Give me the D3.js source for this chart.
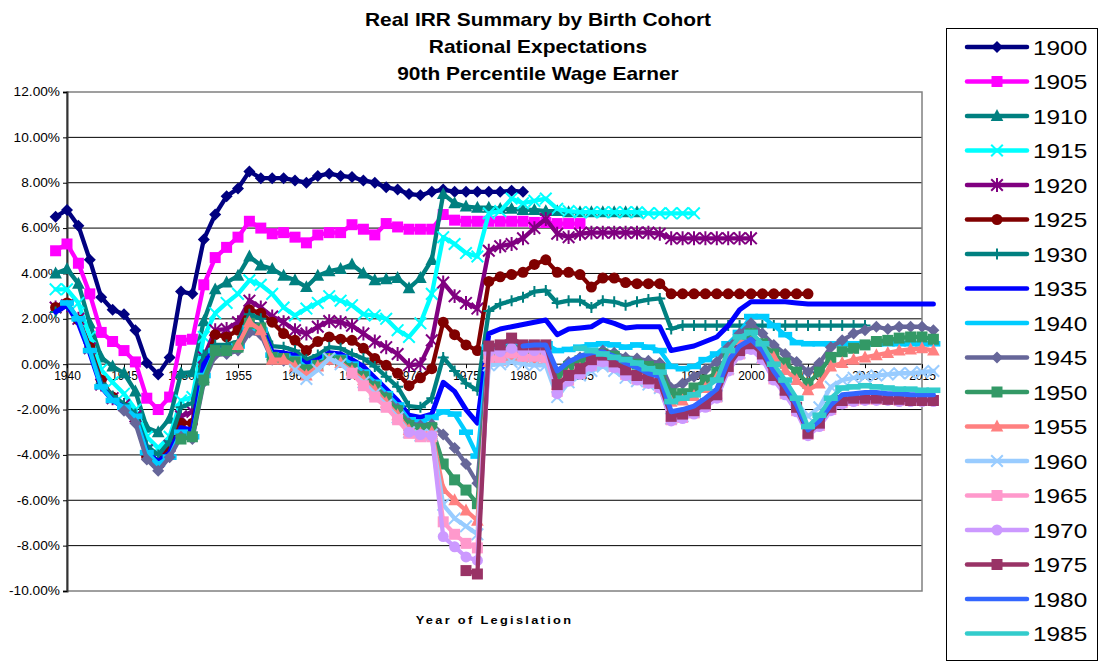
<!DOCTYPE html>
<html>
<head>
<meta charset="utf-8">
<script src="https://cdn.jsdelivr.net/npm/d3@7"></script>
<style>
  body { margin: 0; background: #fff; }
  text { font-family: Arial, "Liberation Sans", sans-serif; }
</style>
</head>
<body>
<svg id="chart" width="1102" height="663"></svg>
<script>
// cohorts, styles and values (real IRR in %, by year of legislation)
const cohorts = ["1900","1905","1910","1915","1920","1925","1930","1935","1940","1945","1950","1955","1960","1965","1970","1975","1980","1985"];
const colors = ["#000080","#FF00FF","#008080","#00FFFF","#800080","#800000","#008080","#0000FF","#00CCFF","#666699","#339966","#FF8080","#99CCFF","#FF99CC","#CC99FF","#993366","#3366FF","#33CCCC"];
const markers = ["diamond","square","triangle","x","star","circle","plus","none","dash","diamond","square","triangle","x","square","circle","square","none","dash"];
const startYears = [1939,1939,1939,1939,1939,1939,1939,1939,1940,1945,1950,1955,1960,1965,1970,1975,1980,1985];

const irr1900 = [6.5,6.8,6.1,4.6,2.95,2.4,2.2,1.5,0.05,-0.45,0.3,3.2,3.1,5.5,6.6,7.4,7.75,8.5,8.2,8.2,8.2,8.1,8.0,8.3,8.4,8.3,8.25,8.1,8.0,7.8,7.7,7.5,7.45,7.6,7.7,7.6,7.6,7.6,7.6,7.6,7.65,7.6];
const irr1905 = [5.0,5.3,4.45,3.1,1.4,1.0,0.6,0.1,-1.5,-2.0,-1.45,1.05,1.1,3.5,4.7,5.15,5.6,6.3,6.0,5.75,5.8,5.6,5.35,5.7,5.8,5.8,6.15,5.95,5.7,6.2,6.05,5.95,5.95,5.95,6.6,6.35,6.3,6.3,6.3,6.3,6.3,6.3,6.25,6.25,6.2,6.2,6.2];
const irr1910 = [4.0,4.2,3.55,1.8,0.3,-0.1,-0.4,-1.2,-2.8,-3.0,-2.4,-0.4,-0.35,1.9,3.3,3.6,3.9,4.75,4.35,4.2,3.9,3.7,3.4,3.9,4.1,4.2,4.4,4.0,3.7,3.75,3.8,3.35,3.8,4.6,7.5,7.1,6.95,6.9,6.9,6.85,6.85,6.8,6.8,6.75,6.75,6.7,6.7,6.7,6.7,6.7,6.7,6.7];
const irr1915 = [3.3,3.3,2.7,1.2,-0.25,-0.8,-1.3,-2.0,-3.2,-3.7,-3.2,-1.6,-1.45,1.2,2.25,2.7,3.1,3.7,3.5,3.1,2.5,2.15,2.45,2.7,3.0,2.8,2.6,2.2,2.15,2.0,1.5,1.2,1.8,3.1,5.6,5.3,4.9,4.75,6.65,6.75,7.3,7.1,7.2,7.3,6.85,6.75,6.7,6.7,6.7,6.7,6.7,6.7,6.65,6.65,6.65,6.65,6.65];
const irr1920 = [2.5,2.6,2.0,0.7,-0.9,-1.5,-1.8,-2.3,-3.8,-4.3,-3.6,-2.3,-2.1,0.3,1.5,1.55,1.85,2.8,2.5,2.1,1.85,1.5,1.35,1.65,1.9,1.85,1.7,1.35,1.0,0.75,0.45,-0.05,0.0,1.05,3.6,3.0,2.7,2.45,5.0,5.2,5.3,5.55,6.0,6.4,5.75,5.6,5.75,5.8,5.8,5.8,5.8,5.8,5.8,5.75,5.55,5.55,5.55,5.55,5.55,5.55,5.55,5.55];
const irr1925 = [2.5,2.7,1.95,0.75,-0.7,-1.45,-1.9,-2.4,-4.1,-4.35,-3.7,-2.6,-2.6,-0.1,1.3,1.2,1.5,2.4,2.25,1.85,1.35,1.05,0.6,1.0,1.2,1.1,1.05,0.7,0.25,-0.05,-0.4,-0.95,-0.6,-0.2,1.85,1.3,0.85,0.6,3.65,3.85,3.95,4.05,4.4,4.6,4.05,4.05,3.95,3.4,3.8,3.8,3.6,3.55,3.55,3.55,3.1,3.1,3.1,3.1,3.1,3.1,3.1,3.1,3.1,3.1,3.1,3.1,3.1];
const irr1930 = [2.3,2.6,1.9,0.65,-0.85,-1.4,-1.75,-2.2,-3.6,-4.0,-3.4,-1.9,-1.7,0.4,0.85,0.85,1.0,2.2,2.0,0.8,0.75,0.6,0.2,0.4,0.75,0.7,0.45,0.25,-0.1,-0.55,-1.0,-1.85,-1.9,-1.5,0.3,-0.3,-0.85,-1.15,2.35,2.65,2.8,2.95,3.2,3.25,2.7,2.8,2.8,2.5,2.8,2.75,2.6,2.75,2.85,2.9,1.55,1.7,1.7,1.7,1.7,1.7,1.7,1.7,1.7,1.7,1.7,1.7,1.7,1.7,1.7,1.7,1.7,1.7];
const irr1935 = [2.3,2.6,1.8,0.5,-1.0,-1.6,-1.9,-2.4,-3.9,-4.3,-3.9,-2.8,-2.9,0.0,0.7,0.7,0.85,1.8,1.7,0.55,0.5,0.4,0.0,0.2,0.5,0.45,0.2,-0.1,-0.6,-1.1,-1.6,-2.25,-2.35,-2.2,-0.8,-1.2,-2.0,-2.6,1.35,1.55,1.65,1.75,1.85,1.95,1.3,1.55,1.6,1.65,1.95,1.8,1.6,1.65,1.65,1.65,0.6,0.7,0.8,1.0,1.2,1.7,2.4,2.75,2.75,2.75,2.75,2.7,2.65,2.65,2.65,2.65,2.65,2.65,2.65,2.65,2.65,2.65,2.65,2.65];
const irr1940 = [2.7,2.0,0.6,-1.0,-1.6,-1.9,-2.3,-3.9,-4.4,-4.1,-3.0,-3.2,-0.5,0.6,0.6,0.8,1.6,1.5,0.4,0.35,0.25,-0.15,0.05,0.35,0.3,0.0,-0.35,-0.8,-1.3,-1.8,-2.45,-2.55,-2.35,-2.1,-2.2,-3.0,-4.05,0.75,0.8,0.85,0.85,0.9,0.9,0.6,0.65,0.75,0.85,0.9,0.85,0.75,0.85,0.75,0.6,-0.1,-0.2,-0.1,0.2,0.45,0.9,1.4,2.1,2.1,1.7,1.3,0.95,0.9,0.9,0.9,0.9,0.9,0.9,0.9,0.9,0.9,0.9,0.9,0.9];
const irr1945 = [-2.05,-2.6,-4.2,-4.7,-4.1,-3.2,-3.3,-0.8,0.4,0.45,0.6,1.4,1.3,0.2,0.15,0.05,-0.3,-0.1,0.2,0.1,-0.15,-0.5,-0.95,-1.45,-1.95,-2.6,-2.7,-2.65,-3.1,-3.7,-4.4,-5.25,0.6,0.65,0.8,0.7,0.7,0.7,-0.4,0.1,0.3,0.45,0.6,0.5,0.3,0.25,0.15,0.05,-1.05,-0.85,-0.55,-0.25,0.1,0.75,1.35,1.8,1.35,0.85,0.45,0.1,-0.35,0.05,0.75,1.05,1.35,1.5,1.65,1.55,1.65,1.65,1.65,1.5];
const irr1950 = [-3.3,-3.2,-0.7,0.6,0.6,0.75,1.8,1.6,0.3,0.25,0.1,-0.25,-0.05,0.25,0.15,-0.2,-0.55,-1.0,-1.5,-2.05,-2.7,-2.85,-2.8,-4.4,-5.1,-5.55,-6.15,0.3,0.35,0.6,0.5,0.5,0.5,-0.6,-0.1,0.15,0.3,0.45,0.35,0.1,0.0,-0.1,-0.2,-1.3,-1.3,-1.05,-0.7,-0.35,0.3,0.9,1.35,0.9,0.45,0.05,-0.35,-0.85,-0.35,0.3,0.55,0.7,0.85,1.0,1.05,1.15,1.2,1.2,1.1];
const irr1955 = [0.85,1.85,1.5,0.2,0.2,-0.1,-0.5,-0.1,0.2,0.05,-0.3,-0.7,-1.15,-1.7,-2.25,-2.9,-3.05,-3.0,-5.5,-6.0,-6.45,-6.9,0.1,0.15,0.3,0.2,0.2,0.2,-0.9,-0.45,-0.2,0.0,0.2,0.0,-0.3,-0.45,-0.6,-0.75,-1.65,-1.6,-1.4,-1.05,-0.6,0.35,1.0,0.95,0.6,0.3,-0.25,-0.7,-1.15,-0.85,-0.1,0.05,0.2,0.3,0.4,0.5,0.6,0.65,0.7,0.6];
const irr1960 = [-0.25,-0.65,-0.25,0.25,0.0,-0.4,-0.8,-1.3,-1.8,-2.35,-3.0,-3.15,-3.1,-6.2,-6.8,-7.15,-7.5,-0.05,0.0,0.1,0.0,-0.05,-0.05,-1.45,-0.8,-0.5,-0.3,-0.1,-0.3,-0.6,-0.75,-0.9,-1.05,-2.4,-2.3,-2.1,-1.8,-1.4,-0.2,0.5,0.75,0.3,-0.5,-1.1,-1.7,-2.3,-1.9,-1.0,-0.7,-0.6,-0.55,-0.5,-0.45,-0.4,-0.4,-0.35,-0.3];
const irr1965 = [-0.4,-0.95,-1.45,-1.9,-2.45,-3.05,-3.2,-3.2,-6.95,-7.5,-7.9,-8.1,0.3,0.3,0.5,0.35,0.35,0.3,-1.2,-0.7,-0.4,-0.05,0.15,-0.1,-0.45,-0.65,-0.8,-1.0,-2.45,-2.35,-2.15,-1.85,-1.45,-0.25,0.45,0.7,0.25,-0.65,-1.3,-2.05,-3.1,-2.7,-2.0,-1.7,-1.6,-1.55,-1.55,-1.55,-1.6,-1.6,-1.6,-1.6];
const irr1970 = [-3.0,-3.1,-3.15,-7.6,-8.05,-8.5,-8.65,0.55,0.55,0.7,0.6,0.6,0.6,-1.3,-0.75,-0.45,-0.1,0.1,-0.15,-0.5,-0.7,-0.85,-1.05,-2.5,-2.4,-2.2,-1.9,-1.5,-0.3,0.4,0.65,0.2,-0.7,-1.35,-2.1,-3.15,-2.75,-2.05,-1.75,-1.65,-1.6,-1.6,-1.6,-1.65,-1.65,-1.65,-1.65];
const irr1975 = [-9.1,-9.25,0.8,0.85,1.15,0.85,0.85,0.85,-0.9,-0.5,-0.2,0.2,0.4,0.1,-0.25,-0.5,-0.65,-0.85,-2.3,-2.2,-2.05,-1.75,-1.35,-0.1,0.6,0.9,0.45,-0.5,-1.15,-1.9,-3.05,-2.6,-1.9,-1.6,-1.5,-1.5,-1.5,-1.55,-1.55,-1.6,-1.6,-1.6];
const irr1980 = [0.8,0.85,0.85,-0.3,0.1,0.35,0.5,0.55,0.35,0.05,-0.15,-0.4,-0.55,-2.1,-2.0,-1.85,-1.5,-1.1,0.15,0.8,1.1,0.6,-0.3,-1.0,-1.8,-2.9,-2.5,-1.8,-1.35,-1.3,-1.25,-1.25,-1.3,-1.3,-1.35,-1.35,-1.35];
const irr1985 = [0.7,0.6,0.45,0.3,0.2,0.05,-0.2,-0.35,-1.65,-1.5,-1.35,-1.05,-0.7,0.6,1.2,1.4,0.9,0.0,-0.7,-1.5,-2.75,-2.25,-1.5,-1.05,-1.0,-0.95,-1.0,-1.05,-1.1,-1.1,-1.15,-1.15];

const seriesValues = [irr1900,irr1905,irr1910,irr1915,irr1920,irr1925,irr1930,irr1935,irr1940,irr1945,irr1950,irr1955,irr1960,irr1965,irr1970,irr1975,irr1980,irr1985];
const yTicks = [-10,-8,-6,-4,-2,0,2,4,6,8,10,12];
const xTicks = [1940,1945,1950,1955,1960,1965,1970,1975,1980,1985,1990,1995,2000,2005,2010,2015];
const titleLines = ["Real IRR Summary by Birth Cohort","Rational Expectations","90th Percentile Wage Earner"];

const plot = {left: 67, right: 922, top: 92, bottom: 591};
const svg = d3.select("#chart");

const x = d3.scaleLinear().domain([1940, 2015]).range([plot.left, plot.right]);
const y = d3.scaleLinear().domain([-10, 12]).range([plot.bottom, plot.top]);

// widen text a little, the way the original export looks
function stretch(sel, factor) {
    sel.each(function () {
        const w = this.getComputedTextLength();
        d3.select(this).attr("textLength", w * factor).attr("lengthAdjust", "spacingAndGlyphs");
    });
}

// gridlines
svg.append("g")
    .selectAll("line")
    .data(yTicks.filter(t => t > -10 && t < 12))
    .enter().append("line")
    .attr("x1", plot.left).attr("x2", plot.right)
    .attr("y1", d => y(d)).attr("y2", d => y(d))
    .attr("stroke", "#000").attr("stroke-width", 1);

// plot border
svg.append("rect")
    .attr("x", plot.left).attr("y", plot.top)
    .attr("width", plot.right - plot.left).attr("height", plot.bottom - plot.top)
    .attr("fill", "none").attr("stroke", "#808080").attr("stroke-width", 1.5);

// y axis
const yAxis = d3.axisLeft(y).tickValues(yTicks).tickSize(4).tickPadding(3)
    .tickFormat(d => d.toFixed(2) + "%");
const yg = svg.append("g").attr("transform", `translate(${plot.left},0)`).call(yAxis);
yg.select(".domain").attr("stroke", "#333").attr("stroke-width", 2);
yg.selectAll("line").attr("stroke", "#000");
yg.selectAll("text").style("font-size", "12px").attr("fill", "#000")
    .style("font-family", "Arial, 'Liberation Sans', sans-serif")
    .call(stretch, 1.14);

// x axis on the zero line
const xAxis = d3.axisBottom(x).tickValues(xTicks).tickSize(4).tickPadding(3).tickFormat(d3.format("d"));
const xg = svg.append("g").attr("transform", `translate(0,${y(0)})`).call(xAxis);
xg.select(".domain").remove();
xg.selectAll("line").attr("stroke", "#000");
xg.selectAll("text").style("font-size", "12px").attr("fill", "#000")
    .style("font-family", "Arial, 'Liberation Sans', sans-serif");

// marker shapes
function markerPath(type, r) {
    switch (type) {
        case "diamond": return `M0,${-r}L${r},0L0,${r}L${-r},0Z`;
        case "square": return `M${-r},${-r}H${r}V${r}H${-r}Z`;
        case "triangle": return `M0,${-r * 1.1}L${r},${r * 0.8}L${-r},${r * 0.8}Z`;
        case "x": return `M${-r},${-r}L${r},${r}M${-r},${r}L${r},${-r}`;
        case "star": return `M${-r},${-r}L${r},${r}M${-r},${r}L${r},${-r}M0,${-r * 1.2}V${r * 1.2}`;
        case "plus": return `M0,${-r}V${r}M${-r},0H${r}`;
        case "dash": return `M${-r * 1.4},-2.8H${r * 1.4}V2.8H${-r * 1.4}Z`;
        default: return null;
    }
}
const filled = t => ["diamond", "square", "triangle", "dash"].includes(t);
const markerSize = {diamond: 6, square: 5.5, triangle: 6.3, x: 5.8, star: 5.8, circle: 5.5, plus: 5.5, dash: 5};

function drawMarker(g, type, color, cx, cy) {
    if (type === "none") return;
    if (type === "circle") {
        g.append("circle").attr("cx", cx).attr("cy", cy).attr("r", markerSize.circle).attr("fill", color);
        return;
    }
    const p = g.append("path").attr("d", markerPath(type, markerSize[type]))
        .attr("transform", `translate(${cx},${cy})`);
    if (filled(type)) p.attr("fill", color);
    else p.attr("fill", "none").attr("stroke", color).attr("stroke-width", 2);
}

const line = d3.line().x(d => x(d.year)).y(d => y(d.value));

seriesValues.forEach((vals, i) => {
    const pts = vals.map((v, k) => ({year: startYears[i] + k, value: v}));
    const g = svg.append("g");
    g.append("path").datum(pts).attr("d", line)
        .attr("fill", "none").attr("stroke", colors[i])
        .attr("stroke-width", markers[i] === "none" ? 5 : 4.3)
        .attr("stroke-linejoin", "round").attr("stroke-linecap", "round");
    pts.forEach(p => drawMarker(g, markers[i], colors[i], x(p.year), y(p.value)));
});

// titles
svg.append("g").selectAll("text").data(titleLines).enter().append("text")
    .attr("x", 538).attr("y", (d, i) => 26 + i * 27)
    .attr("text-anchor", "middle").style("font-size", "19px").style("font-weight", "bold")
    .text(d => d)
    .call(stretch, 1.1);

svg.append("text")
    .attr("x", (plot.left + plot.right) / 2).attr("y", 624)
    .attr("text-anchor", "middle").style("font-size", "11px").style("font-weight", "bold")
    .style("letter-spacing", "2px")
    .text("Year of Legislation")
    .call(stretch, 1.16);

// legend
const legend = svg.append("g");
legend.append("rect").attr("x", 946.5).attr("y", 28.5).attr("width", 151).attr("height", 632)
    .attr("fill", "#fff").attr("stroke", "#000").attr("stroke-width", 1);
cohorts.forEach((c, i) => {
    const cy = 47 + i * 34.5;
    legend.append("line").attr("x1", 967).attr("x2", 1027).attr("y1", cy).attr("y2", cy)
        .attr("stroke", colors[i]).attr("stroke-width", 4.5).attr("stroke-linecap", "round");
    drawMarker(legend, markers[i] === "dash" ? "none" : markers[i], colors[i], 997, cy);
    legend.append("text").attr("x", 1033).attr("y", cy + 7.5)
        .style("font-size", "21px").text(c)
        .call(stretch, 1.16);
});
</script>
</body>
</html>
